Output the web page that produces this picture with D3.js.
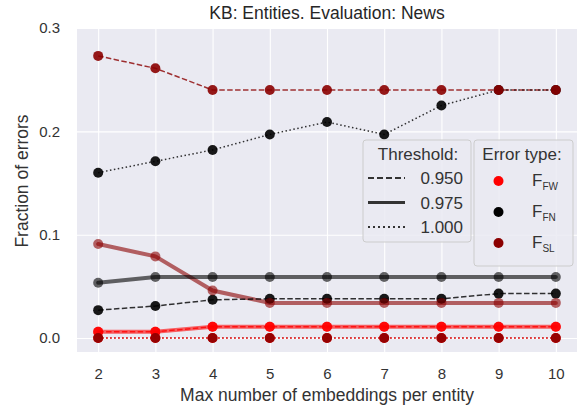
<!DOCTYPE html>
<html><head><meta charset="utf-8">
<script src="https://cdn.jsdelivr.net/npm/d3@7"></script>
<style>body{margin:0;background:#fff;} text{font-family:"Liberation Sans",Arial,sans-serif;}</style>
</head><body><svg id="c" width="580" height="408"></svg>
<script>
const xValues = [2,3,4,5,6,7,8,9,10];
const yTicks = [0.0,0.1,0.2,0.3];
const thresholds = ["0.950","0.975","1.000"];
const errorTypes = ["FW","FN","SL"];
// values per error type and threshold
const fw_950 = [0.006,0.006,0.011,0.011,0.011,0.011,0.011,0.011,0.011];
const fw_975 = [0.006,0.006,0.011,0.011,0.011,0.011,0.011,0.011,0.011];
const fw_100 = [0,0,0,0,0,0,0,0,0];
const fn_950 = [0.027,0.031,0.037,0.038,0.038,0.038,0.038,0.043,0.043];
const fn_975 = [0.0535,0.059,0.059,0.059,0.059,0.059,0.059,0.059,0.059];
const fn_100 = [0.160,0.171,0.182,0.197,0.209,0.197,0.225,0.240,0.240];
const sl_950 = [0.273,0.261,0.240,0.240,0.240,0.240,0.240,0.240,0.240];
const sl_975 = [0.091,0.079,0.046,0.034,0.034,0.034,0.034,0.034,0.034];
const sl_100 = [0,0,0,0,0,0,0,0,0];

const colors = {FW:"#ff0000", FN:"#000000", SL:"#8b0000"};
const styles = {
  "0.950": {w:1.5, dash:"5.5,2.4", a:0.8, ma:0.9},
  "0.975": {w:4, dash:null, a:0.6, ma:0.6},
  "1.000": {w:1.5, dash:"1.5,2.5", a:0.8, ma:0.9}
};
const series = [
  {t:"SL", th:"0.975", v:sl_975},
  {t:"FN", th:"0.975", v:fn_975},
  {t:"FW", th:"0.975", v:fw_975},
  {t:"SL", th:"0.950", v:sl_950},
  {t:"FN", th:"0.950", v:fn_950},
  {t:"FW", th:"0.950", v:fw_950},
  {t:"SL", th:"1.000", v:sl_100},
  {t:"FN", th:"1.000", v:fn_100},
  {t:"FW", th:"1.000", v:fw_100}
];

const svg = d3.select("#c");
const L=77,R=577,T=28,B=352;
const x = d3.scaleLinear().domain([1.63,10.37]).range([L,R]);
const y = d3.scaleLinear().domain([-0.0135,0.3]).range([B,T]);

svg.append("rect").attr("x",L).attr("y",T).attr("width",R-L).attr("height",B-T).attr("fill","#eaeaf2");
// grid
const xAxis = d3.axisBottom(x).tickValues(xValues).tickSize(-(B-T)).tickPadding(16).tickFormat(d3.format("d"));
const yAxis = d3.axisLeft(y).tickValues(yTicks).tickSize(-(R-L)).tickPadding(17).tickFormat(d3.format(".1f"));
const gx = svg.append("g").attr("transform",`translate(0,${B})`).call(xAxis);
const gy = svg.append("g").attr("transform",`translate(${L},0)`).call(yAxis);
[gx,gy].forEach(g=>{
  g.select(".domain").remove();
  g.selectAll(".tick line").attr("stroke","#fff").attr("stroke-width",1.1);
  g.selectAll(".tick text").attr("fill","#333").attr("font-size",15).attr("font-family","Liberation Sans, Arial, sans-serif");
});

const line = d3.line().x((d,i)=>x(xValues[i])).y(d=>y(d));
const plot = svg.append("g");
series.forEach(s=>{
  const st = styles[s.th];
  plot.append("path").datum(s.v).attr("d",line).attr("fill","none")
    .attr("stroke",colors[s.t]).attr("stroke-width",st.w).attr("stroke-opacity",st.a)
    .attr("stroke-dasharray",st.dash).attr("stroke-linecap",st.dash?"butt":"round");
});
// markers drawn in type order FW, FN, SL
["FW","FN","SL"].forEach(t=>{
  series.filter(s=>s.t===t).forEach(s=>{
    const st = styles[s.th];
    plot.selectAll(null).data(s.v).enter().append("circle")
      .attr("cx",(d,i)=>x(xValues[i])).attr("cy",d=>y(d)).attr("r",5)
      .attr("fill",colors[t]).attr("fill-opacity",st.ma);
  });
});

// title & labels
svg.append("text").attr("x",(L+R)/2).attr("y",18.5).attr("text-anchor","middle").attr("font-size",17.5).attr("fill","#262626").text("KB: Entities. Evaluation: News");
svg.append("text").attr("x",(L+R)/2).attr("y",401).attr("text-anchor","middle").attr("font-size",17.5).attr("fill","#333").text("Max number of embeddings per entity");
svg.append("text").attr("transform","translate(28,181) rotate(-90)").attr("text-anchor","middle").attr("font-size",17.5).attr("fill","#333").text("Fraction of errors");

// legend 1
const lg1 = svg.append("g");
lg1.append("rect").attr("x",363).attr("y",140).attr("width",108).attr("height",102).attr("rx",3)
  .attr("fill","#eaeaf2").attr("fill-opacity",0.85).attr("stroke","#cccccc").attr("stroke-width",1);
lg1.append("text").attr("x",418).attr("y",160).attr("text-anchor","middle").attr("font-size",17).attr("fill","#333").text("Threshold:");
thresholds.forEach((th,i)=>{
  const yy = 178 + i*24.5;
  const st = styles[th];
  lg1.append("line").attr("x1",368).attr("x2",405).attr("y1",yy).attr("y2",yy)
    .attr("stroke","#333").attr("stroke-width",th==="0.975"?2.8:2).attr("stroke-dasharray",th==="0.950"?"6,3":(th==="1.000"?"2,3":null));
  lg1.append("text").attr("x",463).attr("y",yy+6).attr("text-anchor","end").attr("font-size",17).attr("fill","#333").text(th);
});
// legend 2
const lg2 = svg.append("g");
lg2.append("rect").attr("x",474).attr("y",140).attr("width",99).attr("height",126).attr("rx",3)
  .attr("fill","#eaeaf2").attr("fill-opacity",0.85).attr("stroke","#cccccc").attr("stroke-width",1);
lg2.append("text").attr("x",522).attr("y",160).attr("text-anchor","middle").attr("font-size",17).attr("fill","#333").text("Error type:");
errorTypes.forEach((t,i)=>{
  const yy = 181 + i*31;
  lg2.append("circle").attr("cx",498.5).attr("cy",yy).attr("r",5).attr("fill",colors[t]);
  const tx = lg2.append("text").attr("x",532).attr("y",yy+5).attr("font-size",17).attr("fill","#333");
  tx.append("tspan").text("F");
  tx.append("tspan").attr("dy",4).attr("font-size",10).text(t);
});
</script></body></html>
